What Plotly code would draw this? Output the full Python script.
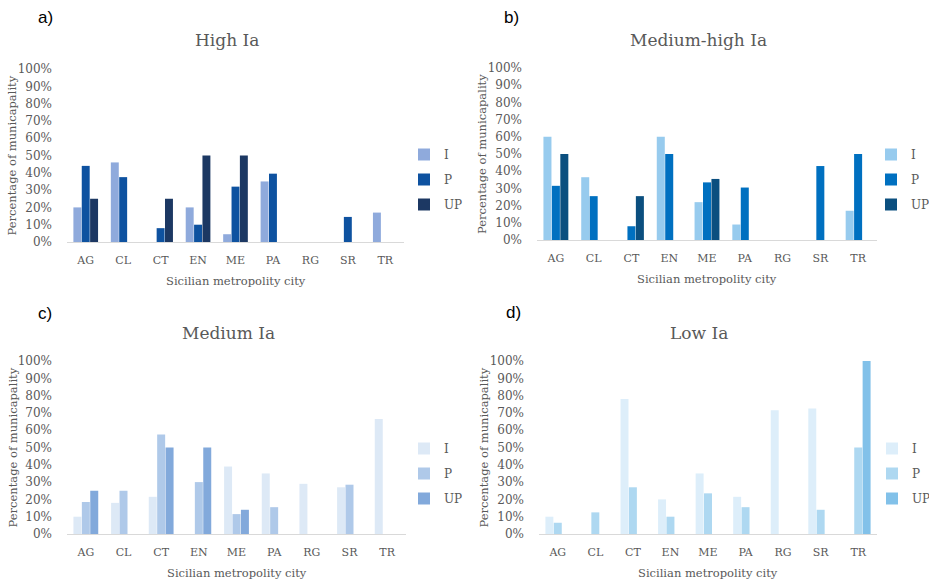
import plotly.graph_objects as go

cities = ["AG", "CL", "CT", "EN", "ME", "PA", "RG", "SR", "TR"]
series_names = ["I", "P", "UP"]

# Panel a) High Ia
high_I = [0.20, 0.46, 0.0, 0.20, 0.045, 0.35, 0.0, 0.0, 0.17]
high_P = [0.44, 0.375, 0.08, 0.10, 0.32, 0.395, 0.0, 0.145, 0.0]
high_UP = [0.25, 0.0, 0.25, 0.50, 0.50, 0.0, 0.0, 0.0, 0.0]

# Panel b) Medium-high Ia
mh_I = [0.60, 0.365, 0.0, 0.60, 0.22, 0.09, 0.0, 0.0, 0.17]
mh_P = [0.315, 0.255, 0.08, 0.50, 0.335, 0.305, 0.0, 0.43, 0.50]
mh_UP = [0.50, 0.0, 0.255, 0.0, 0.355, 0.0, 0.0, 0.0, 0.0]

# Panel c) Medium Ia
med_I = [0.10, 0.18, 0.215, 0.0, 0.39, 0.35, 0.29, 0.27, 0.665]
med_P = [0.185, 0.25, 0.575, 0.30, 0.115, 0.155, 0.0, 0.285, 0.0]
med_UP = [0.25, 0.0, 0.50, 0.50, 0.14, 0.0, 0.0, 0.0, 0.0]

# Panel d) Low Ia
low_I = [0.10, 0.0, 0.78, 0.20, 0.35, 0.215, 0.715, 0.725, 0.0]
low_P = [0.065, 0.125, 0.27, 0.10, 0.235, 0.155, 0.0, 0.14, 0.50]
low_UP = [0.0, 0.0, 0.0, 0.0, 0.0, 0.0, 0.0, 0.0, 1.0]

panels = [
    dict(label="a)", title="High Ia", data=[high_I, high_P, high_UP],
         colors=["#8FAADC", "#0E52A0", "#1C3863"]),
    dict(label="b)", title="Medium-high Ia", data=[mh_I, mh_P, mh_UP],
         colors=["#97CBEE", "#0070C0", "#0B4F7F"]),
    dict(label="c)", title="Medium Ia", data=[med_I, med_P, med_UP],
         colors=["#DDE9F6", "#AFC9E9", "#82A9DB"]),
    dict(label="d)", title="Low Ia", data=[low_I, low_P, low_UP],
         colors=["#DDEEFA", "#AED8F1", "#82C1E9"]),
]

W, H = 929, 582
# plot areas in pixels: (left, right, top(100%), bottom(0%))
boxes = [(67, 404, 69, 242), (537, 877, 68, 240), (67, 406, 361, 534), (539, 877, 361, 534)]
title_pos = [(227, 40), (698, 40), (228, 333), (699, 333)]
label_pos = [(45, 17), (512, 17), (45, 313), (513, 312)]
legend_pos = [(404, 140), (871, 140), (404, 434), (872, 434)]
ytitle_x = [12, 482, 12, 483]

SERIF = "DejaVu Serif"
GRAY = "#595959"

fig = go.Figure()
layout = dict(width=W, height=H,
              margin=dict(l=0, r=0, t=0, b=0, autoexpand=False),
              paper_bgcolor="white", plot_bgcolor="white",
              barmode="group", bargap=0.33, bargroupgap=0.05,
              showlegend=True, annotations=[])

for i, p in enumerate(panels):
    n = i + 1
    xa = "x" if n == 1 else f"x{n}"
    ya = "y" if n == 1 else f"y{n}"
    leg = "legend" if n == 1 else f"legend{n}"
    for s, vals, col in zip(series_names, p["data"], p["colors"]):
        fig.add_trace(go.Bar(x=cities, y=vals, name=s, xaxis=xa, yaxis=ya,
                             marker=dict(color=col, line=dict(width=0)),
                             legend=leg, legendgroup=f"{n}{s}", hoverinfo="skip"))
    l, r, t, b = boxes[i]
    xkey = "xaxis" if n == 1 else f"xaxis{n}"
    ykey = "yaxis" if n == 1 else f"yaxis{n}"
    layout[xkey] = dict(domain=[l / W, r / W], anchor=ya, type="category",
                        showline=True, linecolor="#D9D9D9", linewidth=1,
                        showgrid=False, ticks="", zeroline=False, automargin=False,
                        tickfont=dict(family=SERIF, size=11, color=GRAY),
                        ticklabelstandoff=8)
    layout[ykey] = dict(domain=[1 - b / H, 1 - t / H], anchor=xa, range=[0, 1],
                        tickformat=".0%", dtick=0.1, tick0=0, showgrid=False,
                        zeroline=False, showline=False, ticks="", automargin=False,
                        tickfont=dict(family=SERIF, size=12, color=GRAY),
                        ticklabelstandoff=14)
    lx, ly = legend_pos[i]
    layout[leg] = dict(x=lx / W, y=1 - ly / H, xanchor="left", yanchor="top",
                       bgcolor="rgba(0,0,0,0)", traceorder="grouped",
                       tracegroupgap=6, itemwidth=30,
                       font=dict(family=SERIF, size=12, color=GRAY))
    tx, ty = title_pos[i]
    layout["annotations"].append(dict(text=p["title"], x=tx / W, y=1 - ty / H,
                                      xref="paper", yref="paper", showarrow=False,
                                      xanchor="center", yanchor="middle",
                                      font=dict(family=SERIF, size=17, color=GRAY)))
    px_, py_ = label_pos[i]
    layout["annotations"].append(dict(text=p["label"], x=px_ / W, y=1 - py_ / H,
                                      xref="paper", yref="paper", showarrow=False,
                                      xanchor="center", yanchor="middle",
                                      font=dict(family="Liberation Sans", size=17, color="black")))
    layout["annotations"].append(dict(text="Percentage of municapality",
                                      x=ytitle_x[i] / W, y=1 - ((t + b) / 2) / H,
                                      xref="paper", yref="paper", showarrow=False,
                                      textangle=-90, xanchor="center", yanchor="middle",
                                      font=dict(family=SERIF, size=11.5, color=GRAY)))
    layout["annotations"].append(dict(text="Sicilian metropolity city",
                                      x=((l + r) / 2) / W, y=1 - (b + 39) / H,
                                      xref="paper", yref="paper", showarrow=False,
                                      xanchor="center", yanchor="middle",
                                      font=dict(family=SERIF, size=11.5, color=GRAY)))

fig.update_layout(**layout)
fig.write_html("out.html")
